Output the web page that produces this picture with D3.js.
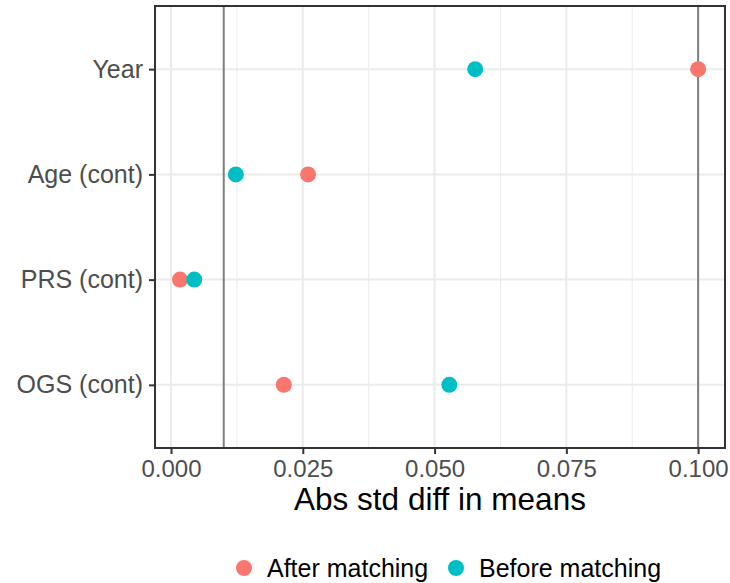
<!DOCTYPE html>
<html>
<head>
<meta charset="utf-8">
<script src="https://cdn.jsdelivr.net/npm/d3@7"></script>
<style>
  body { margin: 0; background: #fff; }
  svg { font-family: "Liberation Sans", Arial, Helvetica, sans-serif; }
</style>
</head>
<body>
<svg id="chart" width="730" height="583"></svg>
<script>
// data
const covariates = ["Year", "Age (cont)", "PRS (cont)", "OGS (cont)"];
const afterMatching = [0.1000, 0.0260, 0.0017, 0.0214];
const beforeMatching = [0.0577, 0.0123, 0.0044, 0.0528];
const groups = ["After matching", "Before matching"];
const groupColors = ["#F8766D", "#00BFC4"];
const xTicks = [0, 0.025, 0.05, 0.075, 0.1];
const xMinor = [0.0125, 0.0375, 0.0625, 0.0875];
const refLines = [0.01, 0.1];

const W = 730, H = 583;
const m = { top: 6, right: 5, bottom: 135, left: 155 };
const cW = W - m.left - m.right;
const cH = H - m.top - m.bottom;

const svg = d3.select('#chart');
const g = svg.append('g').attr('transform', `translate(${m.left},${m.top})`);

const x = d3.scaleLinear().domain([-0.00304, 0.1051]).range([0, cW]);
// discrete axis with ggplot's 0.6 expansion
const y = d3.scalePoint().domain(covariates).range([0, cH]).padding(0.6);

// minor grid
xMinor.forEach(t => {
  g.append('line').attr('x1', x(t)).attr('x2', x(t)).attr('y1', 0).attr('y2', cH)
    .attr('stroke', '#ebebeb').attr('stroke-width', 1);
});
// major grid
xTicks.forEach(t => {
  g.append('line').attr('x1', x(t)).attr('x2', x(t)).attr('y1', 0).attr('y2', cH)
    .attr('stroke', '#ebebeb').attr('stroke-width', 2);
});
covariates.forEach(c => {
  g.append('line').attr('x1', 0).attr('x2', cW).attr('y1', y(c)).attr('y2', y(c))
    .attr('stroke', '#ebebeb').attr('stroke-width', 2);
});

// threshold lines
refLines.forEach(v => {
  g.append('line').attr('x1', x(v)).attr('x2', x(v)).attr('y1', 0).attr('y2', cH)
    .attr('stroke', '#7f7f7f').attr('stroke-width', 2);
});

// points
const series = [afterMatching, beforeMatching];
series.forEach((vals, si) => {
  g.selectAll(null).data(vals).enter().append('circle')
    .attr('cx', d => x(d))
    .attr('cy', (d, i) => y(covariates[i]))
    .attr('r', 8)
    .attr('fill', groupColors[si]);
});

// panel border
g.append('rect').attr('width', cW).attr('height', cH)
  .attr('fill', 'none').attr('stroke', '#333333').attr('stroke-width', 2);

// axes
const xAxis = g.append('g').attr('transform', `translate(0,${cH})`)
  .call(d3.axisBottom(x).tickValues(xTicks).tickFormat(d3.format('.3f')).tickSize(6).tickPadding(6));
const yAxis = g.append('g')
  .call(d3.axisLeft(y).tickSize(6).tickPadding(6));
[xAxis, yAxis].forEach(a => {
  a.select('.domain').remove();
  a.selectAll('.tick line').attr('stroke', '#333333').attr('stroke-width', 2);
  a.selectAll('text').style('fill', '#4d4d4d')
    .style('font-family', '"Liberation Sans", Arial, sans-serif');
});
xAxis.selectAll('text').style('font-size', '24px');
yAxis.selectAll('text').style('font-size', '25px');

// x title
svg.append('text').attr('x', m.left + cW / 2).attr('y', 510)
  .attr('text-anchor', 'middle').style('font-size', '31.5px').style('fill', '#000')
  .text('Abs std diff in means');

// legend
const legendX = [244, 456];
groups.forEach((name, i) => {
  svg.append('circle').attr('cx', legendX[i]).attr('cy', 568).attr('r', 8).attr('fill', groupColors[i]);
  svg.append('text').attr('x', legendX[i] + 23).attr('y', 577)
    .style('font-size', '25px').style('fill', '#000').text(name);
});
</script>
</body>
</html>
